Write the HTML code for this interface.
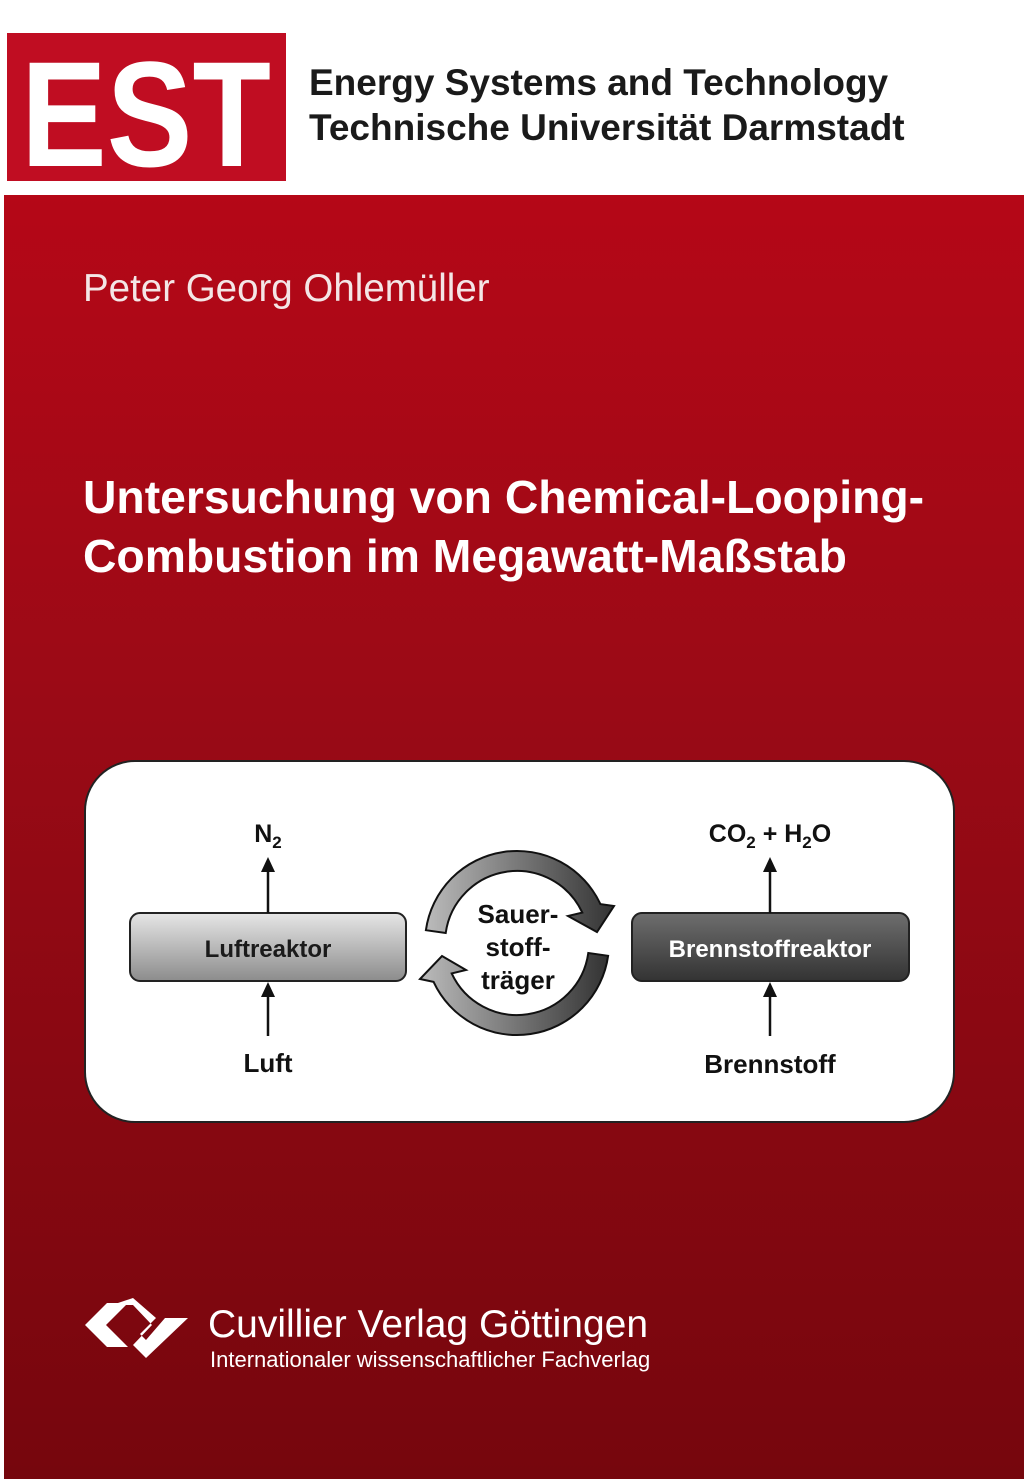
<!DOCTYPE html>
<html><head><meta charset="utf-8"><style>
html,body{margin:0;padding:0;background:#fff;}
body{width:1024px;height:1479px;position:relative;overflow:hidden;font-family:"Liberation Sans",Arial,sans-serif;}
.red{position:absolute;left:4px;top:195px;width:1020px;height:1284px;background:linear-gradient(#b50717,#9a0a16 40%,#76060d);}
.t{position:absolute;white-space:nowrap;}
</style></head><body>
<svg style="position:absolute;left:7px;top:33px" width="279" height="148" viewBox="0 0 279 148">
<rect width="279" height="148" fill="#c00d22"/>
<text x="139" y="133" text-anchor="middle" font-family="Liberation Sans" font-weight="bold" font-size="150" fill="#fff" textLength="250" lengthAdjust="spacingAndGlyphs">EST</text>
</svg>
<div class="t" style="left:309px;top:62px;font-size:37px;font-weight:bold;color:#1a1a1a;">Energy Systems and Technology</div>
<div class="t" style="left:309px;top:107px;font-size:37px;font-weight:bold;color:#1a1a1a;">Technische Universität Darmstadt</div>
<div class="red"></div>
<div class="t" style="left:83px;top:267px;font-size:38.5px;color:#f4e6e6;">Peter Georg Ohlemüller</div>
<div class="t" style="left:83px;top:470px;font-size:46.3px;font-weight:bold;color:#fff;">Untersuchung von Chemical-Looping-</div>
<div class="t" style="left:83px;top:529px;font-size:46.3px;font-weight:bold;color:#fff;">Combustion im Megawatt-Maßstab</div>
<svg style="position:absolute;left:0;top:0" width="1024" height="1479">
<defs>
<linearGradient id="g1" x1="0" y1="0" x2="0" y2="1"><stop offset="0" stop-color="#e6e6e6"/><stop offset="1" stop-color="#8c8c8c"/></linearGradient>
<linearGradient id="g2" x1="0" y1="0" x2="0" y2="1"><stop offset="0" stop-color="#6e6e6e"/><stop offset="1" stop-color="#333"/></linearGradient>
<linearGradient id="ga" x1="0" y1="0" x2="1" y2="0"><stop offset="0" stop-color="#bbb"/><stop offset="1" stop-color="#333"/></linearGradient>
</defs>
<rect x="85" y="761" width="869" height="361" rx="50" fill="#fff" stroke="#222" stroke-width="2"/>
<rect x="130" y="913" width="276" height="68" rx="10" fill="url(#g1)" stroke="#222" stroke-width="2"/>
<rect x="632" y="913" width="277" height="68" rx="10" fill="url(#g2)" stroke="#222" stroke-width="2"/>
<text x="268" y="957" text-anchor="middle" font-weight="bold" font-size="24" fill="#1a1a1a">Luftreaktor</text>
<text x="770" y="957" text-anchor="middle" font-weight="bold" font-size="24" fill="#fff">Brennstoffreaktor</text>
<g stroke="#111" stroke-width="2.5" fill="#111">
<line x1="268" y1="913" x2="268" y2="870"/><polygon points="268,857 261,872 275,872" stroke="none"/>
<line x1="268" y1="1036" x2="268" y2="995"/><polygon points="268,982 261,997 275,997" stroke="none"/>
<line x1="770" y1="913" x2="770" y2="870"/><polygon points="770,857 763,872 777,872" stroke="none"/>
<line x1="770" y1="1036" x2="770" y2="995"/><polygon points="770,982 763,997 777,997" stroke="none"/>
</g>
<text x="268" y="842" text-anchor="middle" font-weight="bold" font-size="25" fill="#111">N<tspan font-size="17" dy="6">2</tspan></text>
<text x="770" y="842" text-anchor="middle" font-weight="bold" font-size="25" fill="#111">CO<tspan font-size="17" dy="6">2</tspan><tspan dy="-6"> + H</tspan><tspan font-size="17" dy="6">2</tspan><tspan dy="-6">O</tspan></text>
<text x="268" y="1072" text-anchor="middle" font-weight="bold" font-size="26" fill="#111">Luft</text>
<text x="770" y="1073" text-anchor="middle" font-weight="bold" font-size="26" fill="#111">Brennstoff</text>
<path d="M425.9,930.2 A92,92 0 0 1 600.4,904.1 L614,906 L597,932 L568,916 L582.3,912.6 A72,72 0 0 0 445.7,933 Z" fill="url(#ga)" stroke="#111" stroke-width="2"/>
<path d="M608.1,955.8 A92,92 0 0 1 433.6,981.9 L420,979 L442,956 L466,970 L451.7,973.4 A72,72 0 0 0 588.3,953 Z" fill="url(#ga)" stroke="#111" stroke-width="2"/>
<text x="518" y="923" text-anchor="middle" font-weight="bold" font-size="26" fill="#111">Sauer-</text>
<text x="518" y="956" text-anchor="middle" font-weight="bold" font-size="26" fill="#111">stoff-</text>
<text x="518" y="989" text-anchor="middle" font-weight="bold" font-size="26" fill="#111">träger</text>
<g fill="#fff">
<polygon points="85,1325 107,1303 128,1303 106,1325 128,1347 107,1347"/>
<polygon points="112,1305 133,1305 152,1325 133,1345 146,1358 188,1318 165,1318 146,1340 140,1334 156,1318 133,1298"/>
</g>
</svg>
<div class="t" style="left:208px;top:1303px;font-size:39px;color:#fff;">Cuvillier Verlag Göttingen</div>
<div class="t" style="left:210px;top:1347px;font-size:22px;color:#fff;">Internationaler wissenschaftlicher Fachverlag</div>
</body></html>
